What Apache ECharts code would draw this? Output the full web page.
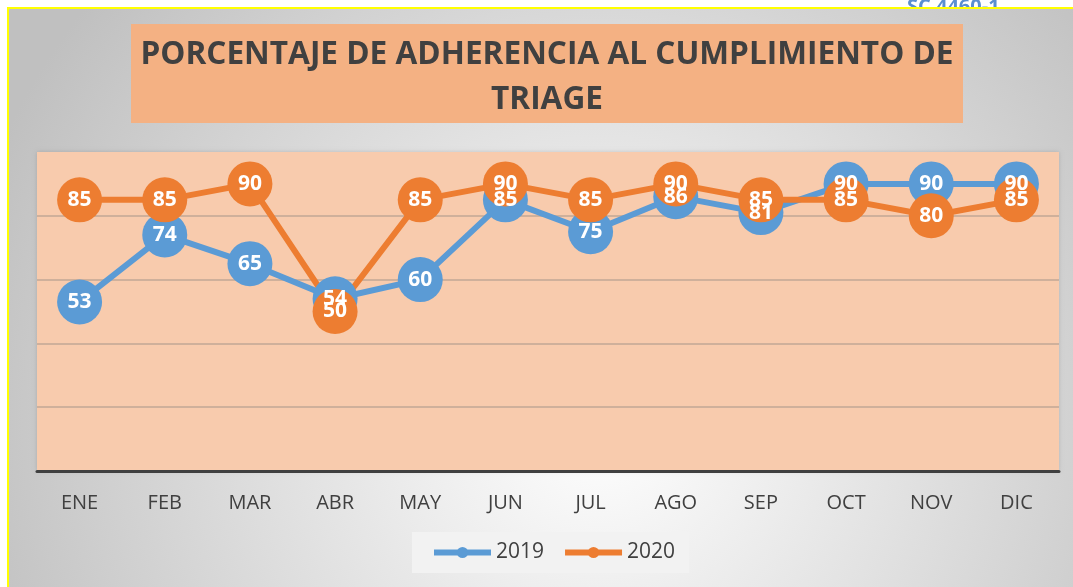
<!DOCTYPE html>
<html>
<head>
<meta charset="utf-8">
<script src="https://cdn.jsdelivr.net/npm/echarts@6/dist/echarts.min.js"></script>
<style>
  html, body { margin: 0; padding: 0; background: #fff; }
  #chart { width: 1073px; height: 587px; }
</style>
</head>
<body>
<div id="chart"></div>
<script>
  // meses y porcentajes
  const meses = ['ENE', 'FEB', 'MAR', 'ABR', 'MAY', 'JUN', 'JUL', 'AGO', 'SEP', 'OCT', 'NOV', 'DIC'];
  const datos2019 = [53, 74, 65, 54, 60, 85, 75, 86, 81, 90, 90, 90];
  const datos2020 = [85, 85, 90, 50, 85, 90, 85, 90, 85, 85, 80, 85];
  const titulo = 'PORCENTAJE DE ADHERENCIA AL CUMPLIMIENTO DE\nTRIAGE';

  const fuente = '"Open Sans", "Noto Sans", sans-serif';
  const gris = '#404040';
  const linea = '#c2a796';

  const chart = echarts.init(document.getElementById('chart'));

  function serie(name, color, data) {
    return {
      name: name,
      type: 'line',
      data: data,
      symbol: 'circle',
      symbolSize: 45,
      lineStyle: { width: 6, color: color },
      itemStyle: { color: color },
      label: {
        show: true,
        position: 'inside',
        color: '#fff',
        fontWeight: 'bold',
        fontSize: 21,
        fontFamily: fuente
      },
      emphasis: { disabled: true }
    };
  }

  const option = {
    animation: false,
    backgroundColor: '#fff',
    graphic: [
      {
        type: 'text',
        left: 907,
        top: -3,
        z: -20,
        style: { text: 'SC 4460-1', fill: '#5b8fd0', font: 'bold 20px ' + fuente }
      },
      {
        type: 'rect',
        z: -10,
        shape: { x: 8, y: 8, width: 1080, height: 600 },
        style: {
          fill: new echarts.graphic.RadialGradient(600, 420, 660, [
            { offset: 0, color: '#ffffff' },
            { offset: 1, color: '#c0c0c0' }
          ], true),
          stroke: '#ffff00',
          lineWidth: 2
        },
        silent: true
      },
      {
        type: 'rect',
        z: -5,
        shape: { x: 131, y: 24, width: 832, height: 99 },
        style: { fill: '#F4B183' },
        silent: true
      },
      {
        type: 'text',
        z: -4,
        x: 547,
        y: 32,
        style: {
          text: titulo,
          fill: gris,
          font: 'bold 31.6px ' + fuente,
          align: 'center',
          lineHeight: 45
        }
      }
    ],
    grid: {
      left: 37,
      right: 14,
      top: 152,
      bottom: 116,
      show: true,
      backgroundColor: '#F8CBAD',
      borderWidth: 0,
      shadowBlur: 4,
      shadowColor: 'rgba(0,0,0,0.15)'
    },
    legend: {
      data: ['2019', '2020'],
      left: 412,
      top: 532,
      padding: [10, 14, 10, 19],
      backgroundColor: '#f2f2f2',
      itemWidth: 57,
      itemHeight: 14,
      itemGap: 18,
      lineStyle: { width: 6 },
      textStyle: { fontSize: 21, color: gris, fontFamily: fuente }
    },
    xAxis: {
      type: 'category',
      data: meses,
      axisLine: { lineStyle: { color: gris, width: 3 } },
      axisTick: { show: false },
      axisLabel: { fontSize: 20, color: gris, fontFamily: fuente, margin: 22 }
    },
    yAxis: {
      type: 'value',
      min: 0,
      max: 100,
      interval: 20,
      axisLabel: { show: false },
      axisLine: { show: false },
      axisTick: { show: false },
      splitLine: {
        lineStyle: {
          color: [linea, linea, linea, linea, linea, 'rgba(0,0,0,0)'],
          width: 1.5
        }
      }
    },
    series: [
      serie('2019', '#5B9BD5', datos2019),
      serie('2020', '#ED7D31', datos2020)
    ]
  };

  chart.setOption(option);
</script>
</body>
</html>
